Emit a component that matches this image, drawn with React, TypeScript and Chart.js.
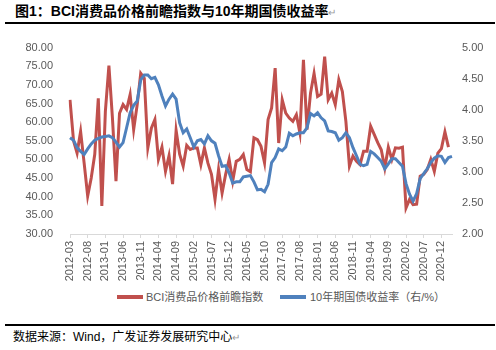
import React, { useEffect, useRef } from 'react';
import { Chart, registerables } from 'chart.js';
Chart.register(...registerables);

const RED = '#C0504D';
const BLUE = '#4F81BD';
const FONT = "'Liberation Sans', 'Noto Sans CJK SC', sans-serif";

const startYear = 2012;
const startMonth = 3;
const monthCount = 109;
const labelEvery = 5;

const categories: string[] = [];
for (let k = 0; k < monthCount; k++) {
  const m = startMonth - 1 + k;
  const y = startYear + Math.floor(m / 12);
  const mm = (m % 12) + 1;
  categories.push(`${y}-${String(mm).padStart(2, '0')}`);
}

const seriesNames = ['BCI消费品价格前瞻指数', '10年期国债收益率（右/%）'];

const bciValues: (number | null)[] = [
  66, 55, 51.7, 57.5, 49, 40.2, 45, 51.4, 66.4, 37.5,
  62.9, 75.2, 61.1, 44.2, 62.4, 64.7, 63.4, 67.4, 58, 64.7,
  73.1, 71.8, 53.1, 58.4, 60.7, 50, 53.3, 46.8, 51, 43.4,
  57.8, 51.4, 48.2, 53.8, 52.7, 53.1, 53.1, 48.6, 53.1, 49,
  46, 39.3, 47.3, 41, 46, 50, 44.2, 49.5, 50, 51.3,
  47.3, 46.7, 55.8, 55.3, 53.5, 49.1, 60.7, 63.8, 74.5, 54.4,
  66, 62.4, 61.1, 60.2, 62, 57.1, 76.7, 58, 67.8, 73.1,
  66.9, 67.5, 77.6, 66, 67.8, 64.7, 71.4, 68.2, 60.2, 48.2,
  50.9, 49.5, 48.6, 52.2, 52.2, 58.9, 56.7, 54.5, 52.6, 47.7,
  53.3, 50, 53.1, 53, 53.3, 37, 39.3, 37.9, 38, 45.5,
  46, 47.3, 50, 46.8, 51.7, 52.9, 57.4, 53.3, null,
];

const yieldValues: number[] = [
  3.55, 3.51, 3.39, 3.33, 3.28, 3.37, 3.45, 3.51, 3.54, 3.56,
  3.57, 3.58, 3.55, 3.48, 3.40, 3.47, 3.71, 3.95, 4.07, 4.14,
  4.48, 4.56, 4.56, 4.50, 4.52, 4.40, 4.22, 4.06, 4.17, 4.25,
  4.17, 3.79, 3.63, 3.69, 3.55, 3.40, 3.50, 3.52, 3.45, 3.58,
  3.50, 3.46, 3.26, 3.09, 3.10, 2.98, 2.82, 2.84, 2.84, 2.92,
  2.93, 2.94, 2.84, 2.71, 2.72, 2.68, 2.80, 3.15, 3.23, 3.37,
  3.34, 3.40, 3.62, 3.58, 3.61, 3.63, 3.63, 3.71, 3.94, 3.90,
  3.95, 3.87, 3.82, 3.66, 3.65, 3.63, 3.51, 3.55, 3.63, 3.55,
  3.39, 3.26, 3.12, 3.10, 3.12, 3.33, 3.29, 3.23, 3.17, 3.05,
  3.13, 3.21, 3.21, 3.15, 3.09, 2.81, 2.64, 2.53, 2.65, 2.89,
  2.97, 3.05, 3.15, 3.22, 3.26, 3.25, 3.15, 3.23, 3.25,
];

const leftMin = 30, leftMax = 80, leftStep = 5;
const rightMin = 2, rightMax = 5, rightStep = 0.5;

const CANVAS_TOP = 24;
const CANVAS_H = 258;

export default function App() {
  const ref = useRef<HTMLCanvasElement>(null);
  useEffect(() => {
    document.body.style.margin = '0';
    const tickFont = { family: FONT, size: 11 };
    const chart = new Chart(ref.current as HTMLCanvasElement, {
      type: 'line',
      data: {
        labels: categories,
        datasets: [
          {
            label: seriesNames[0],
            data: bciValues,
            borderColor: RED,
            backgroundColor: RED,
            borderWidth: 3,
            pointRadius: 0,
            tension: 0,
            yAxisID: 'y',
            order: 1,
          },
          {
            label: seriesNames[1],
            data: yieldValues,
            borderColor: BLUE,
            backgroundColor: BLUE,
            borderWidth: 3,
            pointRadius: 0,
            tension: 0,
            yAxisID: 'y1',
            order: 0,
          },
        ],
      },
      options: {
        animation: false,
        responsive: false,
        maintainAspectRatio: false,
        layout: { padding: { top: 22, left: 0, right: 0, bottom: 0 } },
        plugins: { legend: { display: false }, tooltip: { enabled: false } },
        scales: {
          x: {
            type: 'category',
            grid: {
              display: true,
              drawOnChartArea: false,
              drawTicks: true,
              tickLength: 4,
              color: (c: any) => (c.index % labelEvery === 0 ? '#d9d9d9' : 'rgba(0,0,0,0)'),
            },
            border: { display: true, color: '#d9d9d9', width: 1 },
            ticks: {
              autoSkip: false,
              maxRotation: 90,
              minRotation: 90,
              padding: 3,
              font: tickFont,
              color: '#595959',
              callback: (_v: any, i: number) => (i % labelEvery === 0 ? categories[i] : ''),
            },
            afterFit: (s: any) => {
              s.height = 48;
            },
          },
          y: {
            position: 'left',
            min: leftMin,
            max: leftMax,
            ticks: {
              stepSize: leftStep,
              padding: 17,
              font: tickFont,
              color: '#595959',
              callback: (v: any) => Number(v).toFixed(2),
            },
            grid: { display: false, drawTicks: false },
            border: { display: false },
            afterFit: (s: any) => {
              s.width = 70;
            },
          },
          y1: {
            position: 'right',
            min: rightMin,
            max: rightMax,
            ticks: {
              stepSize: rightStep,
              padding: 10,
              font: tickFont,
              color: '#595959',
              callback: (v: any) => Number(v).toFixed(2),
            },
            grid: { display: false, drawTicks: false },
            border: { display: false },
            afterFit: (s: any) => {
              s.width = 44;
            },
          },
        },
      },
    } as any);
    return () => chart.destroy();
  }, []);

  const markStyle: React.CSSProperties = { color: '#9a9a9a', fontWeight: 'normal', fontSize: 10 };

  return (
    <div style={{ position: 'relative', width: 496, height: 350, background: '#fff', fontFamily: FONT, overflow: 'hidden' }}>
      <div style={{ position: 'absolute', left: 15, top: 3, fontSize: 14, fontWeight: 'bold', color: '#000', whiteSpace: 'nowrap', lineHeight: '16px' }}>
        图1：BCI消费品价格前瞻指数与10年期国债收益率<span style={markStyle}>↵</span>
      </div>
      <div style={{ position: 'absolute', left: 5, top: 22, width: 490, height: 2, background: '#000' }} />
      <canvas ref={ref} width={496} height={CANVAS_H} style={{ position: 'absolute', left: 0, top: CANVAS_TOP, width: 496, height: CANVAS_H }} />
      <div style={{ position: 'absolute', left: 117, top: 295, width: 26, height: 4, background: RED }} />
      <div style={{ position: 'absolute', left: 146, top: 290, fontSize: 11, lineHeight: '14px', color: '#595959', whiteSpace: 'nowrap' }}>{seriesNames[0]}</div>
      <div style={{ position: 'absolute', left: 280, top: 295, width: 26, height: 4, background: BLUE }} />
      <div style={{ position: 'absolute', left: 310, top: 290, fontSize: 11, lineHeight: '14px', color: '#595959', whiteSpace: 'nowrap' }}>{seriesNames[1]}</div>
      <div style={{ position: 'absolute', left: 5, top: 324, width: 490, height: 2, background: '#000' }} />
      <div style={{ position: 'absolute', left: 13, top: 330, fontSize: 12, lineHeight: '15px', color: '#000', whiteSpace: 'nowrap' }}>
        数据来源：Wind，广发证券发展研究中心<span style={markStyle}>↵</span>
      </div>
    </div>
  );
}
